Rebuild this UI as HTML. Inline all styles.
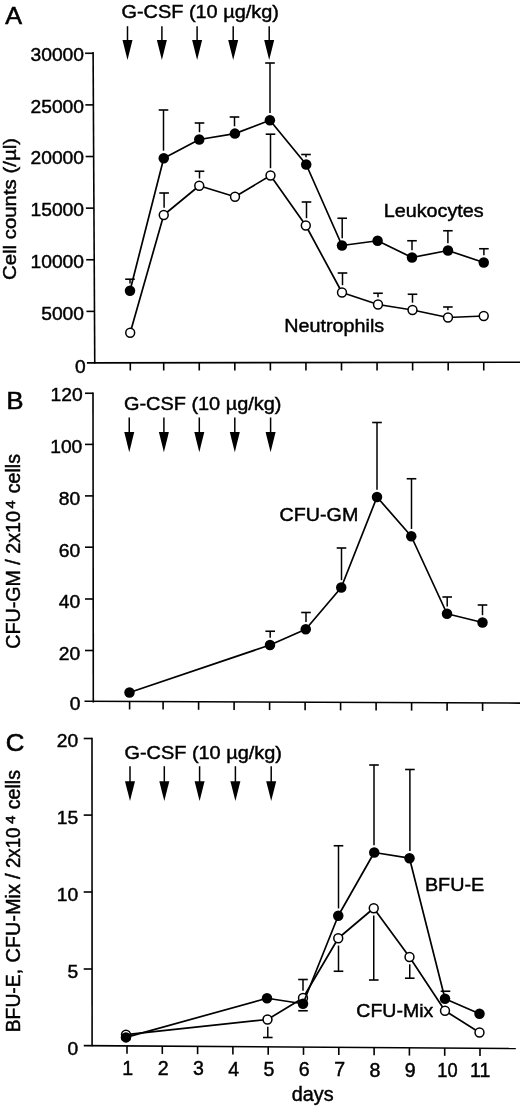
<!DOCTYPE html>
<html lang="en">
<head>
<meta charset="utf-8">
<title>Figure</title>
<style>
html,body{margin:0;padding:0;background:#fff;}
svg{display:block;}
svg text{font-family:"Liberation Sans", Arial, Helvetica, sans-serif;fill:#000;}
</style>
</head>
<body>
<svg width="520" height="1108" viewBox="0 0 520 1108">
<rect x="0" y="0" width="520" height="1108" fill="#fff"/>
<line x1="93.10" y1="52.00" x2="94.75" y2="363.60" stroke="#000" stroke-width="1.6" stroke-linecap="butt"/>
<line x1="86.90" y1="362.90" x2="520.00" y2="362.20" stroke="#000" stroke-width="1.6" stroke-linecap="butt"/>
<line x1="86.47" y1="311.38" x2="94.47" y2="311.38" stroke="#000" stroke-width="1.6" stroke-linecap="butt"/>
<line x1="86.20" y1="259.76" x2="94.20" y2="259.76" stroke="#000" stroke-width="1.6" stroke-linecap="butt"/>
<line x1="85.92" y1="208.14" x2="93.92" y2="208.14" stroke="#000" stroke-width="1.6" stroke-linecap="butt"/>
<line x1="85.65" y1="156.52" x2="93.65" y2="156.52" stroke="#000" stroke-width="1.6" stroke-linecap="butt"/>
<line x1="85.38" y1="104.90" x2="93.38" y2="104.90" stroke="#000" stroke-width="1.6" stroke-linecap="butt"/>
<line x1="85.10" y1="53.28" x2="93.10" y2="53.28" stroke="#000" stroke-width="1.6" stroke-linecap="butt"/>
<line x1="130.30" y1="362.90" x2="130.30" y2="370.50" stroke="#000" stroke-width="1.6" stroke-linecap="butt"/>
<line x1="163.70" y1="362.90" x2="163.70" y2="370.50" stroke="#000" stroke-width="1.6" stroke-linecap="butt"/>
<line x1="199.26" y1="362.90" x2="199.26" y2="370.50" stroke="#000" stroke-width="1.6" stroke-linecap="butt"/>
<line x1="234.82" y1="362.90" x2="234.82" y2="370.50" stroke="#000" stroke-width="1.6" stroke-linecap="butt"/>
<line x1="270.38" y1="362.90" x2="270.38" y2="370.50" stroke="#000" stroke-width="1.6" stroke-linecap="butt"/>
<line x1="305.94" y1="362.90" x2="305.94" y2="370.50" stroke="#000" stroke-width="1.6" stroke-linecap="butt"/>
<line x1="341.50" y1="362.90" x2="341.50" y2="370.50" stroke="#000" stroke-width="1.6" stroke-linecap="butt"/>
<line x1="377.06" y1="362.90" x2="377.06" y2="370.50" stroke="#000" stroke-width="1.6" stroke-linecap="butt"/>
<line x1="412.62" y1="362.90" x2="412.62" y2="370.50" stroke="#000" stroke-width="1.6" stroke-linecap="butt"/>
<line x1="448.18" y1="362.90" x2="448.18" y2="370.50" stroke="#000" stroke-width="1.6" stroke-linecap="butt"/>
<line x1="483.74" y1="362.90" x2="483.74" y2="370.50" stroke="#000" stroke-width="1.6" stroke-linecap="butt"/>
<text x="75.10" y="373.00" font-size="19.0" stroke="#000" stroke-width="0.45" text-anchor="start" textLength="10.70" lengthAdjust="spacingAndGlyphs">0</text>
<text x="41.20" y="320.20" font-size="19.0" stroke="#000" stroke-width="0.45" text-anchor="start" textLength="42.80" lengthAdjust="spacingAndGlyphs">5000</text>
<text x="30.50" y="268.00" font-size="19.0" stroke="#000" stroke-width="0.45" text-anchor="start" textLength="53.50" lengthAdjust="spacingAndGlyphs">10000</text>
<text x="30.50" y="216.30" font-size="19.0" stroke="#000" stroke-width="0.45" text-anchor="start" textLength="53.50" lengthAdjust="spacingAndGlyphs">15000</text>
<text x="30.50" y="164.20" font-size="19.0" stroke="#000" stroke-width="0.45" text-anchor="start" textLength="53.50" lengthAdjust="spacingAndGlyphs">20000</text>
<text x="30.50" y="112.90" font-size="19.0" stroke="#000" stroke-width="0.45" text-anchor="start" textLength="53.50" lengthAdjust="spacingAndGlyphs">25000</text>
<text x="30.50" y="60.60" font-size="19.0" stroke="#000" stroke-width="0.45" text-anchor="start" textLength="53.50" lengthAdjust="spacingAndGlyphs">30000</text>
<text x="5.30" y="24.00" font-size="24.4" stroke="#000" stroke-width="0.6" text-anchor="start" textLength="16.80" lengthAdjust="spacingAndGlyphs">A</text>
<text x="121.40" y="18.00" font-size="19.0" stroke="#000" stroke-width="0.45" text-anchor="start" textLength="157.60" lengthAdjust="spacingAndGlyphs">G-CSF (10 µg/kg)</text>
<line x1="127.50" y1="26.20" x2="127.50" y2="41.00" stroke="#000" stroke-width="1.5" stroke-linecap="butt"/>
<polygon points="122.50,40.00 132.50,40.00 127.50,60.10" fill="#000"/>
<line x1="161.90" y1="26.20" x2="161.90" y2="41.00" stroke="#000" stroke-width="1.5" stroke-linecap="butt"/>
<polygon points="156.90,40.00 166.90,40.00 161.90,60.10" fill="#000"/>
<line x1="197.10" y1="26.20" x2="197.10" y2="41.00" stroke="#000" stroke-width="1.5" stroke-linecap="butt"/>
<polygon points="192.10,40.00 202.10,40.00 197.10,60.10" fill="#000"/>
<line x1="233.20" y1="26.20" x2="233.20" y2="41.00" stroke="#000" stroke-width="1.5" stroke-linecap="butt"/>
<polygon points="228.20,40.00 238.20,40.00 233.20,60.10" fill="#000"/>
<line x1="269.20" y1="26.20" x2="269.20" y2="41.00" stroke="#000" stroke-width="1.5" stroke-linecap="butt"/>
<polygon points="264.20,40.00 274.20,40.00 269.20,60.10" fill="#000"/>
<text x="383.70" y="217.00" font-size="19.0" stroke="#000" stroke-width="0.45" text-anchor="start" textLength="100.00" lengthAdjust="spacingAndGlyphs">Leukocytes</text>
<text x="284.30" y="331.60" font-size="19.0" stroke="#000" stroke-width="0.45" text-anchor="start" textLength="99.90" lengthAdjust="spacingAndGlyphs">Neutrophils</text>
<text x="15.70" y="280.00" font-size="19.0" stroke="#000" stroke-width="0.45" text-anchor="start" textLength="142.00" lengthAdjust="spacingAndGlyphs" transform="rotate(-90 15.70 280.00)">Cell counts (/µl)</text>
<polyline points="130.00,290.70 163.75,158.20 199.25,139.50 234.90,133.60 269.90,120.30 306.20,164.50 342.00,245.50 377.60,240.75 412.00,257.50 448.00,250.50 483.75,262.50" fill="none" stroke="#000" stroke-width="1.7" stroke-linejoin="round"/>
<line x1="130.00" y1="279.20" x2="130.00" y2="283.40" stroke="#000" stroke-width="1.5" stroke-linecap="butt"/>
<line x1="125.20" y1="279.20" x2="134.80" y2="279.20" stroke="#000" stroke-width="1.6" stroke-linecap="butt"/>
<line x1="163.50" y1="110.00" x2="163.50" y2="150.70" stroke="#000" stroke-width="1.5" stroke-linecap="butt"/>
<line x1="158.70" y1="110.00" x2="168.30" y2="110.00" stroke="#000" stroke-width="1.6" stroke-linecap="butt"/>
<line x1="199.50" y1="123.00" x2="199.50" y2="132.20" stroke="#000" stroke-width="1.5" stroke-linecap="butt"/>
<line x1="194.70" y1="123.00" x2="204.30" y2="123.00" stroke="#000" stroke-width="1.6" stroke-linecap="butt"/>
<line x1="234.50" y1="117.00" x2="234.50" y2="126.30" stroke="#000" stroke-width="1.5" stroke-linecap="butt"/>
<line x1="229.70" y1="117.00" x2="239.30" y2="117.00" stroke="#000" stroke-width="1.6" stroke-linecap="butt"/>
<line x1="270.00" y1="63.00" x2="270.00" y2="113.00" stroke="#000" stroke-width="1.5" stroke-linecap="butt"/>
<line x1="265.20" y1="63.00" x2="274.80" y2="63.00" stroke="#000" stroke-width="1.6" stroke-linecap="butt"/>
<line x1="306.00" y1="154.50" x2="306.00" y2="157.20" stroke="#000" stroke-width="1.5" stroke-linecap="butt"/>
<line x1="301.20" y1="154.50" x2="310.80" y2="154.50" stroke="#000" stroke-width="1.6" stroke-linecap="butt"/>
<line x1="342.20" y1="218.25" x2="342.20" y2="238.20" stroke="#000" stroke-width="1.5" stroke-linecap="butt"/>
<line x1="337.40" y1="218.25" x2="347.00" y2="218.25" stroke="#000" stroke-width="1.6" stroke-linecap="butt"/>
<line x1="412.00" y1="240.75" x2="412.00" y2="250.20" stroke="#000" stroke-width="1.5" stroke-linecap="butt"/>
<line x1="407.20" y1="240.75" x2="416.80" y2="240.75" stroke="#000" stroke-width="1.6" stroke-linecap="butt"/>
<line x1="447.90" y1="230.75" x2="447.90" y2="243.20" stroke="#000" stroke-width="1.5" stroke-linecap="butt"/>
<line x1="443.10" y1="230.75" x2="452.70" y2="230.75" stroke="#000" stroke-width="1.6" stroke-linecap="butt"/>
<line x1="483.90" y1="248.75" x2="483.90" y2="255.20" stroke="#000" stroke-width="1.5" stroke-linecap="butt"/>
<line x1="479.10" y1="248.75" x2="488.70" y2="248.75" stroke="#000" stroke-width="1.6" stroke-linecap="butt"/>
<circle cx="130.00" cy="290.70" r="5.25" fill="#000"/>
<circle cx="163.75" cy="158.20" r="5.25" fill="#000"/>
<circle cx="199.25" cy="139.50" r="5.25" fill="#000"/>
<circle cx="234.90" cy="133.60" r="5.25" fill="#000"/>
<circle cx="269.90" cy="120.30" r="5.25" fill="#000"/>
<circle cx="306.20" cy="164.50" r="5.25" fill="#000"/>
<circle cx="342.00" cy="245.50" r="5.25" fill="#000"/>
<circle cx="377.60" cy="240.75" r="5.25" fill="#000"/>
<circle cx="412.00" cy="257.50" r="5.25" fill="#000"/>
<circle cx="448.00" cy="250.50" r="5.25" fill="#000"/>
<circle cx="483.75" cy="262.50" r="5.25" fill="#000"/>
<polyline points="130.20,332.70 163.75,215.00 199.25,185.75 235.00,196.75 270.50,175.50 305.80,225.50 342.00,292.50 378.00,304.50 412.50,310.00 448.00,317.50 483.75,316.00" fill="none" stroke="#000" stroke-width="1.7" stroke-linejoin="round"/>
<line x1="164.10" y1="193.00" x2="164.10" y2="207.70" stroke="#000" stroke-width="1.5" stroke-linecap="butt"/>
<line x1="159.30" y1="193.00" x2="168.90" y2="193.00" stroke="#000" stroke-width="1.6" stroke-linecap="butt"/>
<line x1="199.50" y1="171.25" x2="199.50" y2="178.45" stroke="#000" stroke-width="1.5" stroke-linecap="butt"/>
<line x1="194.70" y1="171.25" x2="204.30" y2="171.25" stroke="#000" stroke-width="1.6" stroke-linecap="butt"/>
<line x1="270.50" y1="134.20" x2="270.50" y2="168.20" stroke="#000" stroke-width="1.5" stroke-linecap="butt"/>
<line x1="265.70" y1="134.20" x2="275.30" y2="134.20" stroke="#000" stroke-width="1.6" stroke-linecap="butt"/>
<line x1="306.50" y1="202.00" x2="306.50" y2="218.20" stroke="#000" stroke-width="1.5" stroke-linecap="butt"/>
<line x1="301.70" y1="202.00" x2="311.30" y2="202.00" stroke="#000" stroke-width="1.6" stroke-linecap="butt"/>
<line x1="342.50" y1="273.00" x2="342.50" y2="285.20" stroke="#000" stroke-width="1.5" stroke-linecap="butt"/>
<line x1="337.70" y1="273.00" x2="347.30" y2="273.00" stroke="#000" stroke-width="1.6" stroke-linecap="butt"/>
<line x1="378.00" y1="293.25" x2="378.00" y2="297.20" stroke="#000" stroke-width="1.5" stroke-linecap="butt"/>
<line x1="373.20" y1="293.25" x2="382.80" y2="293.25" stroke="#000" stroke-width="1.6" stroke-linecap="butt"/>
<line x1="412.50" y1="294.25" x2="412.50" y2="302.70" stroke="#000" stroke-width="1.5" stroke-linecap="butt"/>
<line x1="407.70" y1="294.25" x2="417.30" y2="294.25" stroke="#000" stroke-width="1.6" stroke-linecap="butt"/>
<line x1="447.90" y1="307.00" x2="447.90" y2="310.20" stroke="#000" stroke-width="1.5" stroke-linecap="butt"/>
<line x1="443.10" y1="307.00" x2="452.70" y2="307.00" stroke="#000" stroke-width="1.6" stroke-linecap="butt"/>
<circle cx="130.20" cy="332.70" r="4.45" fill="#fff" stroke="#000" stroke-width="1.5"/>
<circle cx="163.75" cy="215.00" r="4.45" fill="#fff" stroke="#000" stroke-width="1.5"/>
<circle cx="199.25" cy="185.75" r="4.45" fill="#fff" stroke="#000" stroke-width="1.5"/>
<circle cx="235.00" cy="196.75" r="4.45" fill="#fff" stroke="#000" stroke-width="1.5"/>
<circle cx="270.50" cy="175.50" r="4.45" fill="#fff" stroke="#000" stroke-width="1.5"/>
<circle cx="305.80" cy="225.50" r="4.45" fill="#fff" stroke="#000" stroke-width="1.5"/>
<circle cx="342.00" cy="292.50" r="4.45" fill="#fff" stroke="#000" stroke-width="1.5"/>
<circle cx="378.00" cy="304.50" r="4.45" fill="#fff" stroke="#000" stroke-width="1.5"/>
<circle cx="412.50" cy="310.00" r="4.45" fill="#fff" stroke="#000" stroke-width="1.5"/>
<circle cx="448.00" cy="317.50" r="4.45" fill="#fff" stroke="#000" stroke-width="1.5"/>
<circle cx="483.75" cy="316.00" r="4.45" fill="#fff" stroke="#000" stroke-width="1.5"/>
<line x1="93.00" y1="392.50" x2="93.30" y2="702.60" stroke="#000" stroke-width="1.6" stroke-linecap="butt"/>
<line x1="84.50" y1="701.30" x2="520.00" y2="703.10" stroke="#000" stroke-width="1.6" stroke-linecap="butt"/>
<line x1="85.00" y1="650.50" x2="93.20" y2="650.50" stroke="#000" stroke-width="1.6" stroke-linecap="butt"/>
<line x1="85.00" y1="599.00" x2="93.20" y2="599.00" stroke="#000" stroke-width="1.6" stroke-linecap="butt"/>
<line x1="85.00" y1="547.20" x2="93.20" y2="547.20" stroke="#000" stroke-width="1.6" stroke-linecap="butt"/>
<line x1="85.00" y1="495.90" x2="93.20" y2="495.90" stroke="#000" stroke-width="1.6" stroke-linecap="butt"/>
<line x1="85.00" y1="444.40" x2="93.20" y2="444.40" stroke="#000" stroke-width="1.6" stroke-linecap="butt"/>
<line x1="85.00" y1="393.25" x2="93.20" y2="393.25" stroke="#000" stroke-width="1.6" stroke-linecap="butt"/>
<line x1="129.60" y1="701.49" x2="129.60" y2="709.49" stroke="#000" stroke-width="1.6" stroke-linecap="butt"/>
<line x1="163.10" y1="701.62" x2="163.10" y2="709.62" stroke="#000" stroke-width="1.6" stroke-linecap="butt"/>
<line x1="198.60" y1="701.77" x2="198.60" y2="709.77" stroke="#000" stroke-width="1.6" stroke-linecap="butt"/>
<line x1="234.10" y1="701.92" x2="234.10" y2="709.92" stroke="#000" stroke-width="1.6" stroke-linecap="butt"/>
<line x1="269.60" y1="702.07" x2="269.60" y2="710.07" stroke="#000" stroke-width="1.6" stroke-linecap="butt"/>
<line x1="305.10" y1="702.21" x2="305.10" y2="710.21" stroke="#000" stroke-width="1.6" stroke-linecap="butt"/>
<line x1="340.60" y1="702.36" x2="340.60" y2="710.36" stroke="#000" stroke-width="1.6" stroke-linecap="butt"/>
<line x1="376.10" y1="702.51" x2="376.10" y2="710.51" stroke="#000" stroke-width="1.6" stroke-linecap="butt"/>
<line x1="411.60" y1="702.65" x2="411.60" y2="710.65" stroke="#000" stroke-width="1.6" stroke-linecap="butt"/>
<line x1="447.10" y1="702.80" x2="447.10" y2="710.80" stroke="#000" stroke-width="1.6" stroke-linecap="butt"/>
<line x1="482.60" y1="702.95" x2="482.60" y2="710.95" stroke="#000" stroke-width="1.6" stroke-linecap="butt"/>
<text x="69.70" y="709.50" font-size="19.0" stroke="#000" stroke-width="0.45" text-anchor="start" textLength="10.70" lengthAdjust="spacingAndGlyphs">0</text>
<text x="58.80" y="659.60" font-size="19.0" stroke="#000" stroke-width="0.45" text-anchor="start" textLength="21.40" lengthAdjust="spacingAndGlyphs">20</text>
<text x="58.80" y="608.30" font-size="19.0" stroke="#000" stroke-width="0.45" text-anchor="start" textLength="21.40" lengthAdjust="spacingAndGlyphs">40</text>
<text x="58.80" y="557.00" font-size="19.0" stroke="#000" stroke-width="0.45" text-anchor="start" textLength="21.40" lengthAdjust="spacingAndGlyphs">60</text>
<text x="58.80" y="505.00" font-size="19.0" stroke="#000" stroke-width="0.45" text-anchor="start" textLength="21.40" lengthAdjust="spacingAndGlyphs">80</text>
<text x="50.20" y="453.00" font-size="19.0" stroke="#000" stroke-width="0.45" text-anchor="start" textLength="32.10" lengthAdjust="spacingAndGlyphs">100</text>
<text x="50.50" y="401.20" font-size="19.0" stroke="#000" stroke-width="0.45" text-anchor="start" textLength="32.10" lengthAdjust="spacingAndGlyphs">120</text>
<text x="6.60" y="409.00" font-size="24.2" stroke="#000" stroke-width="0.6" text-anchor="start" textLength="17.00" lengthAdjust="spacingAndGlyphs">B</text>
<text x="123.90" y="409.50" font-size="19.0" stroke="#000" stroke-width="0.45" text-anchor="start" textLength="157.60" lengthAdjust="spacingAndGlyphs">G-CSF (10 µg/kg)</text>
<line x1="129.25" y1="417.50" x2="129.25" y2="433.00" stroke="#000" stroke-width="1.5" stroke-linecap="butt"/>
<polygon points="124.25,432.00 134.25,432.00 129.25,452.30" fill="#000"/>
<line x1="163.90" y1="417.50" x2="163.90" y2="433.00" stroke="#000" stroke-width="1.5" stroke-linecap="butt"/>
<polygon points="158.90,432.00 168.90,432.00 163.90,452.30" fill="#000"/>
<line x1="199.30" y1="417.50" x2="199.30" y2="433.00" stroke="#000" stroke-width="1.5" stroke-linecap="butt"/>
<polygon points="194.30,432.00 204.30,432.00 199.30,452.30" fill="#000"/>
<line x1="234.80" y1="417.50" x2="234.80" y2="433.00" stroke="#000" stroke-width="1.5" stroke-linecap="butt"/>
<polygon points="229.80,432.00 239.80,432.00 234.80,452.30" fill="#000"/>
<line x1="270.60" y1="417.50" x2="270.60" y2="433.00" stroke="#000" stroke-width="1.5" stroke-linecap="butt"/>
<polygon points="265.60,432.00 275.60,432.00 270.60,452.30" fill="#000"/>
<text x="279.50" y="520.70" font-size="19.0" stroke="#000" stroke-width="0.45" text-anchor="start" textLength="78.80" lengthAdjust="spacingAndGlyphs">CFU-GM</text>
<text x="20.00" y="648.70" font-size="19.7" stroke="#000" stroke-width="0.45" text-anchor="start" textLength="137.60" lengthAdjust="spacingAndGlyphs" transform="rotate(-90 20.00 648.70)">CFU-GM / 2x10</text>
<text x="14.60" y="508.60" font-size="13.6" stroke="#000" stroke-width="0.6" text-anchor="start" textLength="8.00" lengthAdjust="spacingAndGlyphs" transform="rotate(-90 14.60 508.60)">4</text>
<text x="20.00" y="493.20" font-size="19.7" stroke="#000" stroke-width="0.45" text-anchor="start" textLength="39.20" lengthAdjust="spacingAndGlyphs" transform="rotate(-90 20.00 493.20)">cells</text>
<polyline points="129.50,692.50 270.00,645.00 305.75,629.25 341.25,587.50 377.00,497.00 411.25,536.25 447.00,613.75 482.50,622.50" fill="none" stroke="#000" stroke-width="1.7" stroke-linejoin="round"/>
<line x1="270.20" y1="631.25" x2="270.20" y2="637.70" stroke="#000" stroke-width="1.5" stroke-linecap="butt"/>
<line x1="265.40" y1="631.25" x2="275.00" y2="631.25" stroke="#000" stroke-width="1.6" stroke-linecap="butt"/>
<line x1="306.00" y1="612.50" x2="306.00" y2="621.95" stroke="#000" stroke-width="1.5" stroke-linecap="butt"/>
<line x1="301.20" y1="612.50" x2="310.80" y2="612.50" stroke="#000" stroke-width="1.6" stroke-linecap="butt"/>
<line x1="341.50" y1="548.00" x2="341.50" y2="580.20" stroke="#000" stroke-width="1.5" stroke-linecap="butt"/>
<line x1="336.70" y1="548.00" x2="346.30" y2="548.00" stroke="#000" stroke-width="1.6" stroke-linecap="butt"/>
<line x1="377.00" y1="422.50" x2="377.00" y2="489.70" stroke="#000" stroke-width="1.5" stroke-linecap="butt"/>
<line x1="372.20" y1="422.50" x2="381.80" y2="422.50" stroke="#000" stroke-width="1.6" stroke-linecap="butt"/>
<line x1="411.50" y1="478.75" x2="411.50" y2="528.95" stroke="#000" stroke-width="1.5" stroke-linecap="butt"/>
<line x1="406.70" y1="478.75" x2="416.30" y2="478.75" stroke="#000" stroke-width="1.6" stroke-linecap="butt"/>
<line x1="447.20" y1="597.00" x2="447.20" y2="606.45" stroke="#000" stroke-width="1.5" stroke-linecap="butt"/>
<line x1="442.40" y1="597.00" x2="452.00" y2="597.00" stroke="#000" stroke-width="1.6" stroke-linecap="butt"/>
<line x1="482.50" y1="605.00" x2="482.50" y2="615.20" stroke="#000" stroke-width="1.5" stroke-linecap="butt"/>
<line x1="477.70" y1="605.00" x2="487.30" y2="605.00" stroke="#000" stroke-width="1.6" stroke-linecap="butt"/>
<circle cx="129.50" cy="692.50" r="5.25" fill="#000"/>
<circle cx="270.00" cy="645.00" r="5.25" fill="#000"/>
<circle cx="305.75" cy="629.25" r="5.25" fill="#000"/>
<circle cx="341.25" cy="587.50" r="5.25" fill="#000"/>
<circle cx="377.00" cy="497.00" r="5.25" fill="#000"/>
<circle cx="411.25" cy="536.25" r="5.25" fill="#000"/>
<circle cx="447.00" cy="613.75" r="5.25" fill="#000"/>
<circle cx="482.50" cy="622.50" r="5.25" fill="#000"/>
<line x1="92.00" y1="737.80" x2="92.10" y2="1046.30" stroke="#000" stroke-width="1.6" stroke-linecap="butt"/>
<line x1="83.75" y1="1045.60" x2="515.80" y2="1048.50" stroke="#000" stroke-width="1.6" stroke-linecap="butt"/>
<line x1="83.70" y1="969.00" x2="92.10" y2="969.00" stroke="#000" stroke-width="1.6" stroke-linecap="butt"/>
<line x1="83.70" y1="892.00" x2="92.10" y2="892.00" stroke="#000" stroke-width="1.6" stroke-linecap="butt"/>
<line x1="83.70" y1="815.10" x2="92.10" y2="815.10" stroke="#000" stroke-width="1.6" stroke-linecap="butt"/>
<line x1="83.70" y1="738.50" x2="92.10" y2="738.50" stroke="#000" stroke-width="1.6" stroke-linecap="butt"/>
<line x1="127.00" y1="1045.89" x2="127.00" y2="1053.69" stroke="#000" stroke-width="1.6" stroke-linecap="butt"/>
<line x1="162.30" y1="1046.13" x2="162.30" y2="1053.93" stroke="#000" stroke-width="1.6" stroke-linecap="butt"/>
<line x1="197.60" y1="1046.36" x2="197.60" y2="1054.16" stroke="#000" stroke-width="1.6" stroke-linecap="butt"/>
<line x1="232.90" y1="1046.60" x2="232.90" y2="1054.40" stroke="#000" stroke-width="1.6" stroke-linecap="butt"/>
<line x1="268.20" y1="1046.84" x2="268.20" y2="1054.64" stroke="#000" stroke-width="1.6" stroke-linecap="butt"/>
<line x1="303.50" y1="1047.08" x2="303.50" y2="1054.88" stroke="#000" stroke-width="1.6" stroke-linecap="butt"/>
<line x1="338.80" y1="1047.31" x2="338.80" y2="1055.11" stroke="#000" stroke-width="1.6" stroke-linecap="butt"/>
<line x1="374.10" y1="1047.55" x2="374.10" y2="1055.35" stroke="#000" stroke-width="1.6" stroke-linecap="butt"/>
<line x1="409.40" y1="1047.79" x2="409.40" y2="1055.59" stroke="#000" stroke-width="1.6" stroke-linecap="butt"/>
<line x1="444.70" y1="1048.02" x2="444.70" y2="1055.82" stroke="#000" stroke-width="1.6" stroke-linecap="butt"/>
<line x1="480.00" y1="1048.26" x2="480.00" y2="1056.06" stroke="#000" stroke-width="1.6" stroke-linecap="butt"/>
<text x="67.50" y="1054.80" font-size="19.0" stroke="#000" stroke-width="0.45" text-anchor="start" textLength="10.70" lengthAdjust="spacingAndGlyphs">0</text>
<text x="67.50" y="977.90" font-size="19.0" stroke="#000" stroke-width="0.45" text-anchor="start" textLength="10.70" lengthAdjust="spacingAndGlyphs">5</text>
<text x="56.80" y="901.10" font-size="19.0" stroke="#000" stroke-width="0.45" text-anchor="start" textLength="21.40" lengthAdjust="spacingAndGlyphs">10</text>
<text x="56.80" y="824.20" font-size="19.0" stroke="#000" stroke-width="0.45" text-anchor="start" textLength="21.40" lengthAdjust="spacingAndGlyphs">15</text>
<text x="56.80" y="747.30" font-size="19.0" stroke="#000" stroke-width="0.45" text-anchor="start" textLength="21.40" lengthAdjust="spacingAndGlyphs">20</text>
<text x="122.35" y="1074.89" font-size="19.8" stroke="#000" stroke-width="0.45" text-anchor="start" textLength="10.90" lengthAdjust="spacingAndGlyphs">1</text>
<text x="157.65" y="1075.13" font-size="19.8" stroke="#000" stroke-width="0.45" text-anchor="start" textLength="10.90" lengthAdjust="spacingAndGlyphs">2</text>
<text x="192.95" y="1075.36" font-size="19.8" stroke="#000" stroke-width="0.45" text-anchor="start" textLength="10.90" lengthAdjust="spacingAndGlyphs">3</text>
<text x="228.25" y="1075.60" font-size="19.8" stroke="#000" stroke-width="0.45" text-anchor="start" textLength="10.90" lengthAdjust="spacingAndGlyphs">4</text>
<text x="263.55" y="1075.84" font-size="19.8" stroke="#000" stroke-width="0.45" text-anchor="start" textLength="10.90" lengthAdjust="spacingAndGlyphs">5</text>
<text x="298.85" y="1076.08" font-size="19.8" stroke="#000" stroke-width="0.45" text-anchor="start" textLength="10.90" lengthAdjust="spacingAndGlyphs">6</text>
<text x="334.15" y="1076.31" font-size="19.8" stroke="#000" stroke-width="0.45" text-anchor="start" textLength="10.90" lengthAdjust="spacingAndGlyphs">7</text>
<text x="369.45" y="1076.55" font-size="19.8" stroke="#000" stroke-width="0.45" text-anchor="start" textLength="10.90" lengthAdjust="spacingAndGlyphs">8</text>
<text x="404.75" y="1076.79" font-size="19.8" stroke="#000" stroke-width="0.45" text-anchor="start" textLength="10.90" lengthAdjust="spacingAndGlyphs">9</text>
<text x="437.35" y="1077.02" font-size="19.8" stroke="#000" stroke-width="0.45" text-anchor="start" textLength="20.30" lengthAdjust="spacingAndGlyphs">10</text>
<text x="470.05" y="1077.26" font-size="19.8" stroke="#000" stroke-width="0.45" text-anchor="start" textLength="20.30" lengthAdjust="spacingAndGlyphs">11</text>
<text x="5.80" y="751.00" font-size="23.6" stroke="#000" stroke-width="0.6" text-anchor="start" textLength="18.60" lengthAdjust="spacingAndGlyphs">C</text>
<text x="124.40" y="758.70" font-size="19.0" stroke="#000" stroke-width="0.45" text-anchor="start" textLength="157.60" lengthAdjust="spacingAndGlyphs">G-CSF (10 µg/kg)</text>
<line x1="130.00" y1="766.20" x2="130.00" y2="782.20" stroke="#000" stroke-width="1.5" stroke-linecap="butt"/>
<polygon points="125.00,781.20 135.00,781.20 130.00,801.10" fill="#000"/>
<line x1="164.30" y1="766.20" x2="164.30" y2="782.20" stroke="#000" stroke-width="1.5" stroke-linecap="butt"/>
<polygon points="159.30,781.20 169.30,781.20 164.30,801.10" fill="#000"/>
<line x1="199.60" y1="766.20" x2="199.60" y2="782.20" stroke="#000" stroke-width="1.5" stroke-linecap="butt"/>
<polygon points="194.60,781.20 204.60,781.20 199.60,801.10" fill="#000"/>
<line x1="235.40" y1="766.20" x2="235.40" y2="782.20" stroke="#000" stroke-width="1.5" stroke-linecap="butt"/>
<polygon points="230.40,781.20 240.40,781.20 235.40,801.10" fill="#000"/>
<line x1="271.20" y1="766.20" x2="271.20" y2="782.20" stroke="#000" stroke-width="1.5" stroke-linecap="butt"/>
<polygon points="266.20,781.20 276.20,781.20 271.20,801.10" fill="#000"/>
<text x="424.90" y="891.20" font-size="19.0" stroke="#000" stroke-width="0.45" text-anchor="start" textLength="59.30" lengthAdjust="spacingAndGlyphs">BFU-E</text>
<text x="356.30" y="1017.00" font-size="19.0" stroke="#000" stroke-width="0.45" text-anchor="start" textLength="77.00" lengthAdjust="spacingAndGlyphs">CFU-Mix</text>
<text x="291.80" y="1101.30" font-size="19.5" stroke="#000" stroke-width="0.45" text-anchor="start" textLength="41.80" lengthAdjust="spacingAndGlyphs">days</text>
<text x="20.20" y="1032.30" font-size="19.7" stroke="#000" stroke-width="0.45" text-anchor="start" textLength="63.40" lengthAdjust="spacingAndGlyphs" transform="rotate(-90 20.20 1032.30)">BFU-E,</text>
<text x="20.20" y="962.60" font-size="19.7" stroke="#000" stroke-width="0.45" text-anchor="start" textLength="78.60" lengthAdjust="spacingAndGlyphs" transform="rotate(-90 20.20 962.60)">CFU-Mix</text>
<text x="20.20" y="879.00" font-size="19.7" stroke="#000" stroke-width="0.45" text-anchor="start" textLength="5.60" lengthAdjust="spacingAndGlyphs" transform="rotate(-90 20.20 879.00)">/</text>
<text x="20.20" y="868.10" font-size="19.7" stroke="#000" stroke-width="0.45" text-anchor="start" textLength="40.60" lengthAdjust="spacingAndGlyphs" transform="rotate(-90 20.20 868.10)">2x10</text>
<text x="14.60" y="823.80" font-size="13.6" stroke="#000" stroke-width="0.6" text-anchor="start" textLength="8.00" lengthAdjust="spacingAndGlyphs" transform="rotate(-90 14.60 823.80)">4</text>
<text x="20.20" y="809.20" font-size="19.7" stroke="#000" stroke-width="0.45" text-anchor="start" textLength="39.20" lengthAdjust="spacingAndGlyphs" transform="rotate(-90 20.20 809.20)">cells</text>
<polyline points="126.00,1034.60 267.50,1019.50 303.00,998.00 338.25,938.25 373.75,908.25 409.50,957.00 445.00,1010.75 479.50,1032.50" fill="none" stroke="#000" stroke-width="1.7" stroke-linejoin="round"/>
<line x1="267.80" y1="1037.50" x2="267.80" y2="1026.80" stroke="#000" stroke-width="1.5" stroke-linecap="butt"/>
<line x1="263.00" y1="1037.50" x2="272.60" y2="1037.50" stroke="#000" stroke-width="1.6" stroke-linecap="butt"/>
<line x1="303.00" y1="979.50" x2="303.00" y2="990.70" stroke="#000" stroke-width="1.5" stroke-linecap="butt"/>
<line x1="298.20" y1="979.50" x2="307.80" y2="979.50" stroke="#000" stroke-width="1.6" stroke-linecap="butt"/>
<line x1="338.50" y1="971.25" x2="338.50" y2="945.55" stroke="#000" stroke-width="1.5" stroke-linecap="butt"/>
<line x1="333.70" y1="971.25" x2="343.30" y2="971.25" stroke="#000" stroke-width="1.6" stroke-linecap="butt"/>
<line x1="373.75" y1="980.00" x2="373.75" y2="915.55" stroke="#000" stroke-width="1.5" stroke-linecap="butt"/>
<line x1="368.95" y1="980.00" x2="378.55" y2="980.00" stroke="#000" stroke-width="1.6" stroke-linecap="butt"/>
<line x1="409.75" y1="978.20" x2="409.75" y2="964.30" stroke="#000" stroke-width="1.5" stroke-linecap="butt"/>
<line x1="404.95" y1="978.20" x2="414.55" y2="978.20" stroke="#000" stroke-width="1.6" stroke-linecap="butt"/>
<circle cx="126.00" cy="1034.60" r="4.45" fill="#fff" stroke="#000" stroke-width="1.5"/>
<circle cx="267.50" cy="1019.50" r="4.45" fill="#fff" stroke="#000" stroke-width="1.5"/>
<circle cx="303.00" cy="998.00" r="4.45" fill="#fff" stroke="#000" stroke-width="1.5"/>
<circle cx="338.25" cy="938.25" r="4.45" fill="#fff" stroke="#000" stroke-width="1.5"/>
<circle cx="373.75" cy="908.25" r="4.45" fill="#fff" stroke="#000" stroke-width="1.5"/>
<circle cx="409.50" cy="957.00" r="4.45" fill="#fff" stroke="#000" stroke-width="1.5"/>
<circle cx="445.00" cy="1010.75" r="4.45" fill="#fff" stroke="#000" stroke-width="1.5"/>
<circle cx="479.50" cy="1032.50" r="4.45" fill="#fff" stroke="#000" stroke-width="1.5"/>
<polyline points="126.00,1037.40 267.00,998.25 303.00,1003.75 338.25,915.75 374.25,852.50 409.50,858.20 445.00,998.75 479.50,1013.75" fill="none" stroke="#000" stroke-width="1.7" stroke-linejoin="round"/>
<line x1="303.00" y1="1010.75" x2="303.00" y2="1011.05" stroke="#000" stroke-width="1.5" stroke-linecap="butt"/>
<line x1="298.20" y1="1010.75" x2="307.80" y2="1010.75" stroke="#000" stroke-width="1.6" stroke-linecap="butt"/>
<line x1="338.50" y1="845.75" x2="338.50" y2="908.45" stroke="#000" stroke-width="1.5" stroke-linecap="butt"/>
<line x1="333.70" y1="845.75" x2="343.30" y2="845.75" stroke="#000" stroke-width="1.6" stroke-linecap="butt"/>
<line x1="374.00" y1="765.00" x2="374.00" y2="845.20" stroke="#000" stroke-width="1.5" stroke-linecap="butt"/>
<line x1="369.20" y1="765.00" x2="378.80" y2="765.00" stroke="#000" stroke-width="1.6" stroke-linecap="butt"/>
<line x1="409.90" y1="769.50" x2="409.90" y2="850.90" stroke="#000" stroke-width="1.5" stroke-linecap="butt"/>
<line x1="405.10" y1="769.50" x2="414.70" y2="769.50" stroke="#000" stroke-width="1.6" stroke-linecap="butt"/>
<line x1="445.50" y1="991.25" x2="445.50" y2="991.45" stroke="#000" stroke-width="1.5" stroke-linecap="butt"/>
<line x1="440.70" y1="991.25" x2="450.30" y2="991.25" stroke="#000" stroke-width="1.6" stroke-linecap="butt"/>
<circle cx="126.00" cy="1037.40" r="5.25" fill="#000"/>
<circle cx="267.00" cy="998.25" r="5.25" fill="#000"/>
<circle cx="303.00" cy="1003.75" r="5.25" fill="#000"/>
<circle cx="338.25" cy="915.75" r="5.25" fill="#000"/>
<circle cx="374.25" cy="852.50" r="5.25" fill="#000"/>
<circle cx="409.50" cy="858.20" r="5.25" fill="#000"/>
<circle cx="445.00" cy="998.75" r="5.25" fill="#000"/>
<circle cx="479.50" cy="1013.75" r="5.25" fill="#000"/>
</svg>
</body>
</html>
